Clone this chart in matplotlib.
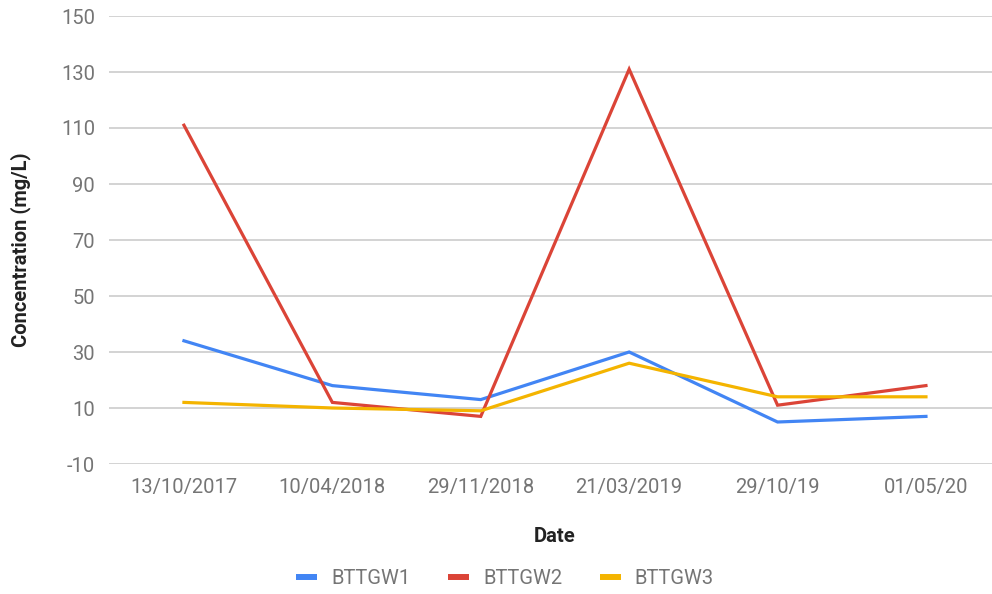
import matplotlib
matplotlib.use("Agg")
import matplotlib.pyplot as plt

dates = ["13/10/2017", "10/04/2018", "29/11/2018", "21/03/2019", "29/10/19", "01/05/20"]
bttgw1 = [34, 18, 13, 30, 5, 7]
bttgw2 = [111, 12, 7, 131, 11, 18]
bttgw3 = [12, 10, 9, 26, 14, 14]
yticks = [-10, 10, 30, 50, 70, 90, 110, 130, 150]

plt.rcParams['font.family'] = ['Roboto', 'DejaVu Sans']
plt.rcParams['axes.unicode_minus'] = False

fig = plt.figure(figsize=(9.92, 5.94), dpi=100)
ax = fig.add_axes([109/992, 130/594, (992-109)/992, (464-16)/594])

x = list(range(len(dates)))
ax.plot(x, bttgw1, color="#4285F4", lw=2.3, label="BTTGW1", solid_joinstyle="miter")
ax.plot(x, bttgw2, color="#DB4437", lw=2.3, label="BTTGW2", solid_joinstyle="miter")
ax.plot(x, bttgw3, color="#F4B400", lw=2.3, label="BTTGW3", solid_joinstyle="miter")

ax.set_xlim(-0.505, 5.445)
ax.set_ylim(-10, 150)
ax.set_yticks(yticks)
ax.set_xticks(x)
ax.set_xticklabels(dates)
for s in ax.spines.values():
    s.set_visible(False)
ax.grid(axis="y", color="#cccccc", lw=1.2)
ax.set_axisbelow(True)
ax.tick_params(axis="both", length=0, labelsize=14.5, labelcolor="#757575")
ax.tick_params(axis="y", pad=10)
ax.tick_params(axis="x", pad=10)

fig.text(21/992, 1 - 250/594, "Concentration (mg/L)", rotation=90, ha="center", va="center",
         fontsize=14.5, fontweight="bold", color="#222222")
fig.text(555/992, 1 - 537/594, "Date", ha="center", va="center",
         fontsize=14.5, fontweight="bold", color="#222222")

leg = fig.legend(loc="center", bbox_to_anchor=(505/992, 1 - 579/594), ncol=3, frameon=False,
                 fontsize=14.5, handlelength=1.05, columnspacing=1.85, handletextpad=0.7)
for t in leg.get_texts():
    t.set_color("#757575")
for h in leg.get_lines():
    h.set_linewidth(4.3)
    h.set_solid_capstyle("butt")

fig.savefig("out.png", dpi=100)
